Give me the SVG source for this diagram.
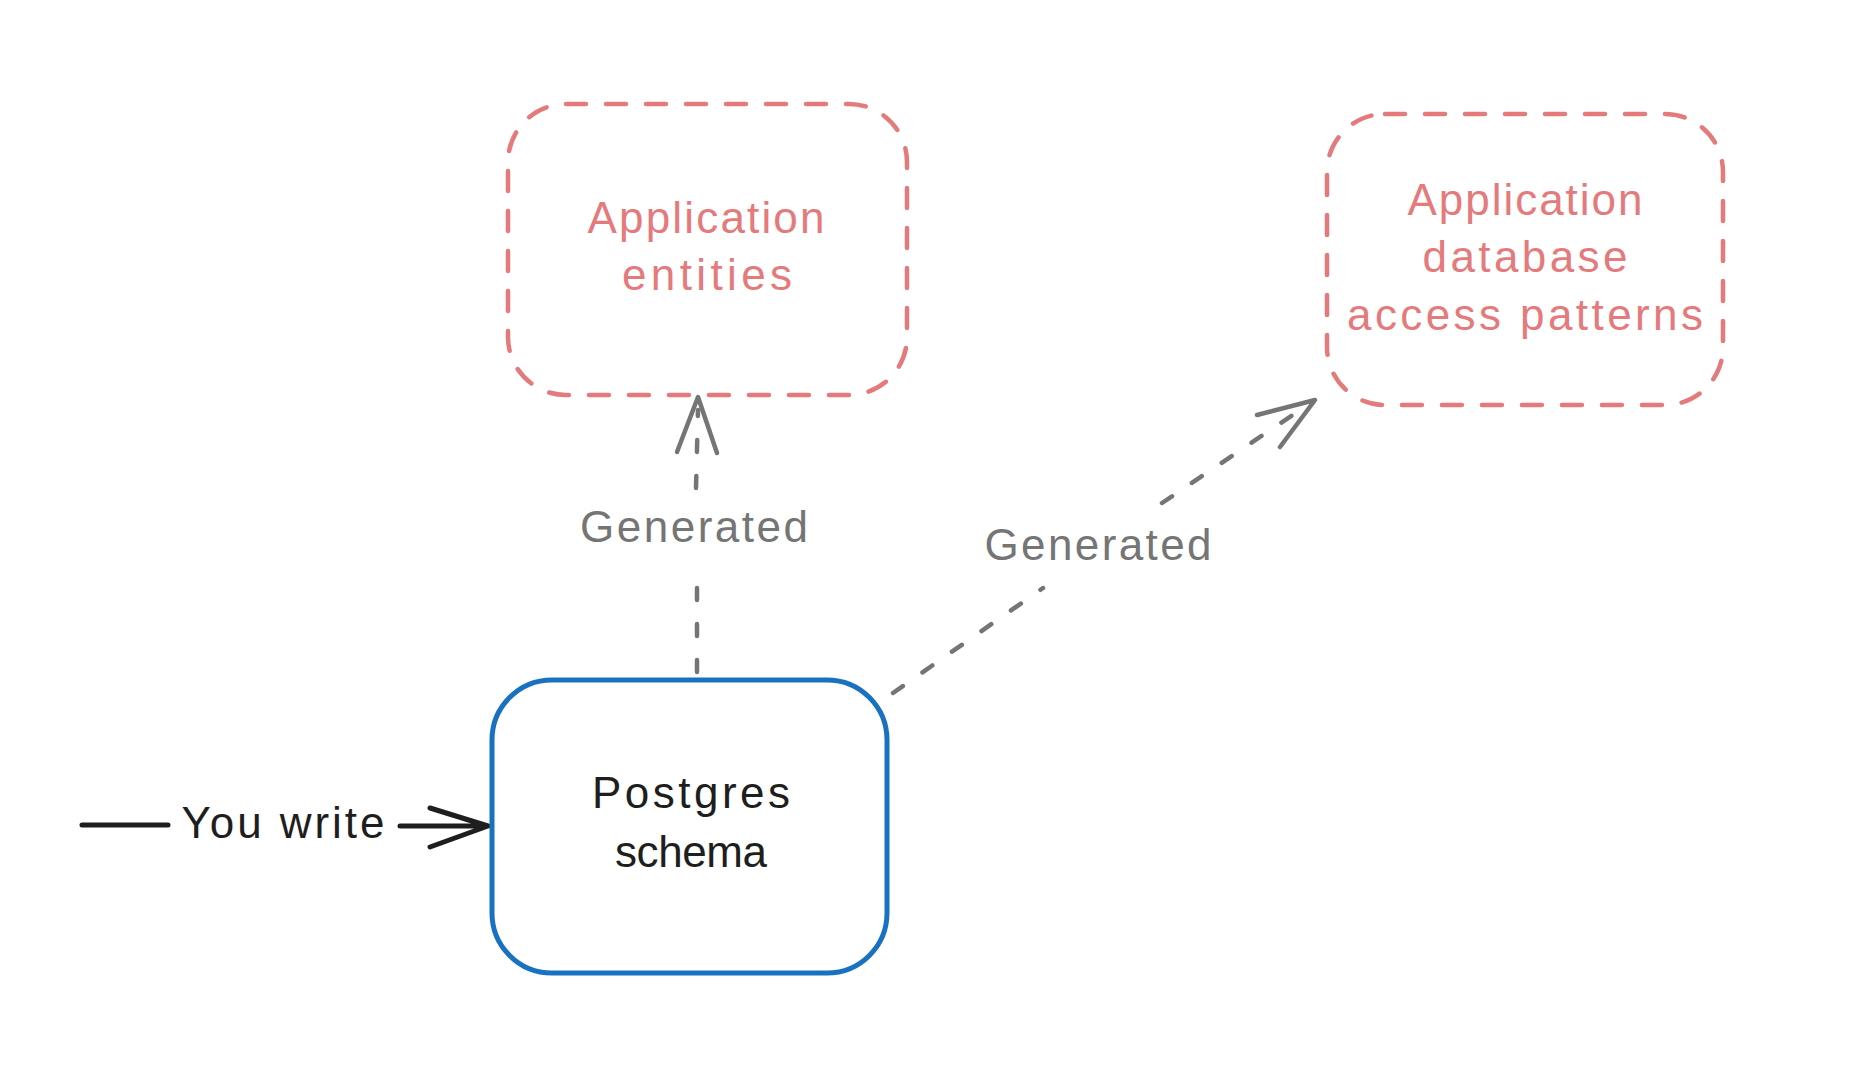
<svg xmlns="http://www.w3.org/2000/svg" width="1858" height="1092" viewBox="0 0 1858 1092">
<style>
.red{fill:none;stroke:#e47a7c;stroke-width:4.5;stroke-dasharray:20 20;stroke-linecap:round}
.blue{fill:none;stroke:#1971c2;stroke-width:5}
.rt{fill:#e47a7c;font-family:"Liberation Sans","DejaVu Sans",sans-serif;font-size:44px;text-anchor:middle}
.bt{fill:#1e1e1e;font-family:"Liberation Sans","DejaVu Sans",sans-serif;font-size:44px;text-anchor:middle}
.gt{fill:#757575;font-family:"Liberation Sans","DejaVu Sans",sans-serif;font-size:44px;text-anchor:middle}
.gd{fill:none;stroke:#757575;stroke-width:4.5;stroke-dasharray:12 24;stroke-linecap:round}
.gs{fill:none;stroke:#757575;stroke-width:4.5;stroke-linecap:round;stroke-linejoin:round}
.bk{fill:none;stroke:#1e1e1e;stroke-width:5;stroke-linecap:round;stroke-linejoin:round}
</style>
<rect width="1858" height="1092" fill="#ffffff"/>
<g id="connectors">
  <g id="edge-you-write">
    <path class="bk" d="M82 825 L168 825 M400 826 L488 826 M430 808 L488 826 L430 847"/>
    <text class="bt" x="283" y="838" textLength="203" lengthAdjust="spacing">You write</text>
  </g>
  <g id="edge-entities">
    <path class="gd" d="M697 672 L697 570 M696 488 L698 410"/>
    <path class="gs" d="M677 452 L698 397 L717 453"/>
    <text class="gt" x="694" y="542" textLength="228" lengthAdjust="spacing">Generated</text>
  </g>
  <g id="edge-access">
    <path class="gd" d="M893 693 L1043 588 M1162 503 L1300 410"/>
    <path class="gs" d="M1257 415 L1315 400 L1280 447"/>
    <text class="gt" x="1098" y="560" textLength="227" lengthAdjust="spacing">Generated</text>
  </g>
</g>
<g id="node-entities">
  <rect class="red" x="508" y="104" width="399" height="291" rx="58"/>
  <text class="rt" x="706" y="233" textLength="237" lengthAdjust="spacing">Application</text>
  <text class="rt" x="707" y="290" textLength="170" lengthAdjust="spacing">entities</text>
</g>
<g id="node-access">
  <rect class="red" x="1327" y="114" width="396" height="291" rx="58"/>
  <text class="rt" x="1525" y="215" textLength="235" lengthAdjust="spacing">Application</text>
  <text class="rt" x="1525" y="272" textLength="205" lengthAdjust="spacing">database</text>
  <text class="rt" x="1525" y="330" textLength="356" lengthAdjust="spacing">access patterns</text>
</g>
<g id="node-postgres">
  <rect class="blue" x="492" y="680" width="395" height="293" rx="60"/>
  <text class="bt" x="691" y="808" textLength="198" lengthAdjust="spacing">Postgres</text>
  <text class="bt" x="691" y="867" textLength="152" lengthAdjust="spacing">schema</text>
</g>
</svg>
